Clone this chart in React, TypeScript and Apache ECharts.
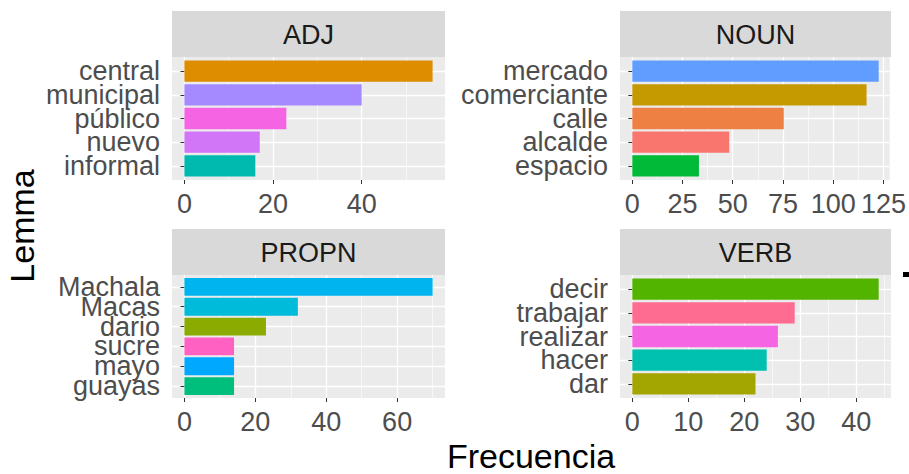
import React, { useEffect, useRef } from "react";
import * as echarts from "echarts";

const FONT = "Liberation Sans, Arial, sans-serif";

const adjLemmas = ["central", "municipal", "público", "nuevo", "informal"];
const adjFreq = [56, 40, 23, 17, 16];
const adjColors = ["#DE8C00", "#A58AFF", "#F564E3", "#D176F7", "#00BAB0"];
const adjTicks = [0, 20, 40];
const adjMinor = [10, 30, 50];

const nounLemmas = ["mercado", "comerciante", "calle", "alcalde", "espacio"];
const nounFreq = [122, 116, 75, 48, 33];
const nounColors = ["#619CFF", "#C49A00", "#EE8044", "#F8766D", "#00BA38"];
const nounTicks = [0, 25, 50, 75, 100, 125];
const nounMinor = [12.5, 37.5, 62.5, 87.5, 112.5];

const propnLemmas = ["Machala", "Macas", "dario", "sucre", "mayo", "guayas"];
const propnFreq = [70, 32, 23, 14, 14, 14];
const propnColors = ["#00B4EF", "#00BBD9", "#8CAB00", "#FF61C3", "#00A9FF", "#00BF7D"];
const propnTicks = [0, 20, 40, 60];
const propnMinor = [10, 30, 50, 70];

const verbLemmas = ["decir", "trabajar", "realizar", "hacer", "dar"];
const verbFreq = [44, 29, 26, 24, 22];
const verbColors = ["#53B400", "#FF6C91", "#F564E3", "#00C0AF", "#A3A500"];
const verbTicks = [0, 10, 20, 30, 40];
const verbMinor = [5, 15, 25, 35, 45];

const facetTitles = ["ADJ", "NOUN", "PROPN", "VERB"];
const xTitle = "Frecuencia";
const yTitle = "Lemma";

export default function App() {
  const ref = useRef<HTMLDivElement>(null);

  useEffect(() => {
    const chart = echarts.init(ref.current!, null, { renderer: "svg" });
    const H = 123;
    const panels = [
      { title: facetTitles[0], lemmas: adjLemmas, freq: adjFreq, colors: adjColors, ticks: adjTicks, minor: adjMinor, x: 172, w: 273, y: 57, stripY: 11 },
      { title: facetTitles[1], lemmas: nounLemmas, freq: nounFreq, colors: nounColors, ticks: nounTicks, minor: nounMinor, x: 620, w: 271, y: 57, stripY: 11 },
      { title: facetTitles[2], lemmas: propnLemmas, freq: propnFreq, colors: propnColors, ticks: propnTicks, minor: propnMinor, x: 172, w: 273, y: 275, stripY: 229 },
      { title: facetTitles[3], lemmas: verbLemmas, freq: verbFreq, colors: verbColors, ticks: verbTicks, minor: verbMinor, x: 620, w: 271, y: 275, stripY: 229 },
    ];
    const grid: any[] = [];
    const xAxis: any[] = [];
    const yAxis: any[] = [];
    const series: any[] = [];
    const graphic: any[] = [];

    panels.forEach((p) => {
      const R = Math.max(...p.freq);
      const min = -0.05 * R;
      const max = 1.05 * R;
      const n = p.lemmas.length;
      const step = H / (n + 0.2);
      const gP = grid.length;
      grid.push({ left: p.x, top: p.y, width: p.w, height: H, show: true, backgroundColor: "#EBEBEB", borderWidth: 0 });
      const gD = grid.length;
      grid.push({ left: p.x, top: p.y + 0.1 * step, width: p.w, height: n * step, show: false });

      xAxis.push({
        gridIndex: gP, type: "value", min, max, position: "bottom",
        axisLine: { show: false },
        axisTick: { show: true, length: 4, customValues: p.ticks, lineStyle: { color: "#333333", width: 1 } },
        axisLabel: { customValues: p.ticks, fontSize: 27, color: "#4D4D4D", fontFamily: FONT, margin: 10 },
        splitLine: { show: true, lineStyle: { color: "#FFFFFF", width: 1.3 } },
      });
      xAxis.push({
        gridIndex: gP, type: "value", min, max, position: "bottom",
        axisLine: { show: false },
        axisTick: { show: false, customValues: p.minor },
        axisLabel: { show: false, customValues: p.minor },
        splitLine: { show: true, lineStyle: { color: "#FFFFFF", width: 0.6 } },
      });
      const centers = p.lemmas.map((_, i) => i + 1);
      yAxis.push({
        gridIndex: gP, type: "value", min: 0.4, max: n + 0.6,
        axisLine: { show: false },
        axisTick: { show: false, customValues: centers },
        axisLabel: { show: false, customValues: centers },
        splitLine: { show: true, lineStyle: { color: "#FFFFFF", width: 1.3 } },
      });
      const xD = xAxis.length;
      xAxis.push({ gridIndex: gD, type: "value", min, max, show: false });
      const yD = yAxis.length;
      yAxis.push({
        gridIndex: gD, type: "category", data: p.lemmas, inverse: true,
        axisLine: { show: false },
        axisTick: { show: true, length: 4, alignWithLabel: true, lineStyle: { color: "#333333", width: 1 } },
        axisLabel: { interval: 0, fontSize: 27, color: "#4D4D4D", fontFamily: FONT, margin: 12 },
        splitLine: { show: false },
      });
      series.push({
        type: "bar",
        xAxisIndex: xD,
        yAxisIndex: yD,
        barWidth: "90%",
        data: p.freq.map((v, i) => ({ value: v, itemStyle: { color: p.colors[i] } })),
      });
      graphic.push({ type: "rect", shape: { x: p.x, y: p.stripY, width: p.w, height: 46 }, style: { fill: "#D9D9D9" } });
      graphic.push({
        type: "text", x: p.x + p.w / 2, y: p.stripY + 24,
        style: { text: p.title, fontSize: 27, fontFamily: FONT, fill: "#1A1A1A", align: "center", verticalAlign: "middle", textAlign: "center", textVerticalAlign: "middle" },
      });
    });

    graphic.push({
      type: "text", x: 531, y: 456,
      style: { text: xTitle, fontSize: 34, fontFamily: FONT, fill: "#000000", align: "center", verticalAlign: "middle", textAlign: "center", textVerticalAlign: "middle" },
    });
    graphic.push({
      type: "text", x: 22, y: 226, rotation: Math.PI / 2,
      style: { text: yTitle, fontSize: 34, fontFamily: FONT, fill: "#000000", align: "center", verticalAlign: "middle", textAlign: "center", textVerticalAlign: "middle" },
    });
    graphic.push({ type: "rect", shape: { x: 903, y: 272, width: 6, height: 5 }, style: { fill: "#000000" } });

    chart.setOption({
      animation: false,
      backgroundColor: "#FFFFFF",
      grid, xAxis, yAxis, series, graphic,
    });
    return () => chart.dispose();
  }, []);

  return <div ref={ref} style={{ position: "absolute", left: 0, top: 0, width: 909, height: 474 }} />;
}
